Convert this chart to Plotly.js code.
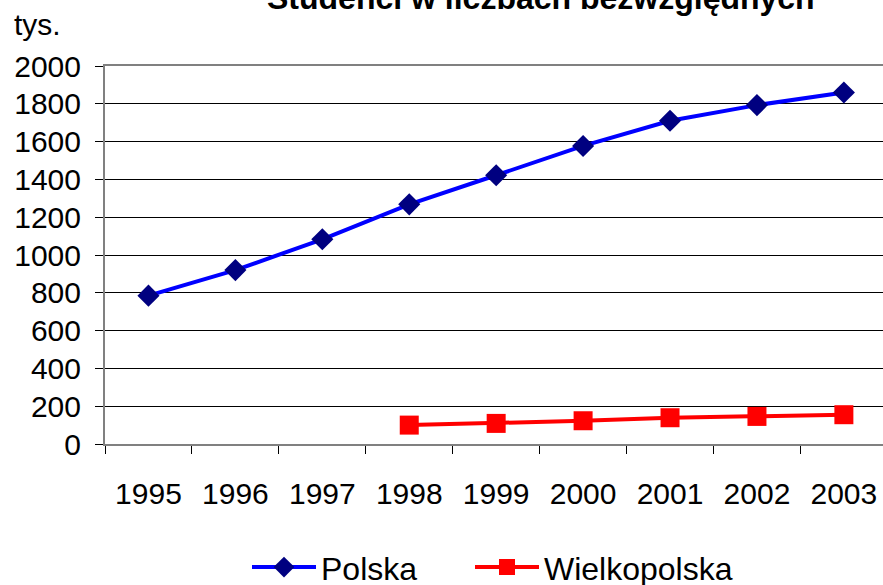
<!DOCTYPE html>
<html>
<head>
<meta charset="utf-8">
<script src="https://cdn.plot.ly/plotly-3.0.1.min.js"></script>
<style>html,body{margin:0;padding:0;background:#fff;}#chart{width:883px;height:585px;}</style>
</head>
<body>
<div id="chart"></div>
<script>
const years = ['1995','1996','1997','1998','1999','2000','2001','2002','2003'];
const polska = [785, 920, 1083, 1268, 1422, 1577, 1710, 1793, 1860];
const wielkopolska = [null, null, null, 100, 109, 123, 139, 146, 155];
const seriesNames = ['Polska', 'Wielkopolska'];
const titleText = 'Studenci w liczbach bezwzględnych';
const unitText = 'tys.';

const font = 'Arial, "Liberation Sans", sans-serif';

const traces = [
  {
    x: years, y: polska, name: seriesNames[0], type: 'scatter', mode: 'lines+markers',
    line: {color: '#0000ff', width: 4},
    marker: {symbol: 'diamond', size: 17, color: '#000080'},
    legend: 'legend'
  },
  {
    x: years, y: wielkopolska, name: seriesNames[1], type: 'scatter', mode: 'lines+markers',
    line: {color: '#ff0000', width: 4},
    marker: {symbol: 'square', size: 19, color: '#ff0000'},
    legend: 'legend2'
  }
];

const legendBase = {
  orientation: 'h', xanchor: 'left', y: -0.326, yanchor: 'middle',
  font: {family: font, size: 32, color: '#000'},
  itemwidth: 64, bgcolor: 'rgba(0,0,0,0)'
};

const layout = {
  width: 883, height: 585,
  margin: {l: 105, r: 0, t: 66, b: 141, pad: 0, autoexpand: false},
  paper_bgcolor: '#ffffff', plot_bgcolor: '#ffffff',
  font: {family: font, size: 30, color: '#000'},
  showlegend: true,
  legend: Object.assign({}, legendBase, {x: (247 - 105) / 778}),
  legend2: Object.assign({}, legendBase, {x: (470 - 105) / 778}),
  xaxis: {
    type: 'category', range: [-0.5, 8.45], tickson: 'boundaries', ticks: 'outside', ticklen: 8, tickcolor: '#000',
    showline: true, linecolor: '#808080', linewidth: 2, mirror: true, automargin: false,
    showgrid: false, tickfont: {family: font, size: 30, color: '#000'},
    ticklabelstandoff: 22, fixedrange: true
  },
  yaxis: {
    range: [0, 2000], dtick: 200, tick0: 0, ticks: 'outside', ticklen: 8, tickcolor: '#000',
    showline: true, linecolor: '#808080', linewidth: 2, automargin: false,
    showgrid: true, gridcolor: '#000', gridwidth: 1, zeroline: false,
    tickfont: {family: font, size: 30, color: '#000'},
    ticklabelstandoff: 8, fixedrange: true
  },
  annotations: [
    {text: '<b>' + titleText + '</b>', xref: 'paper', yref: 'paper', x: 0.56, y: 1.18,
     xanchor: 'center', yanchor: 'middle', showarrow: false,
     font: {family: font, size: 32, color: '#000'}},
    {text: unitText, xref: 'paper', yref: 'paper', x: -0.12, y: 1.111,
     xanchor: 'left', yanchor: 'middle', showarrow: false,
     font: {family: font, size: 30, color: '#000'}}
  ]
};

Plotly.newPlot('chart', traces, layout, {displayModeBar: false, staticPlot: true});
</script>
</body>
</html>
